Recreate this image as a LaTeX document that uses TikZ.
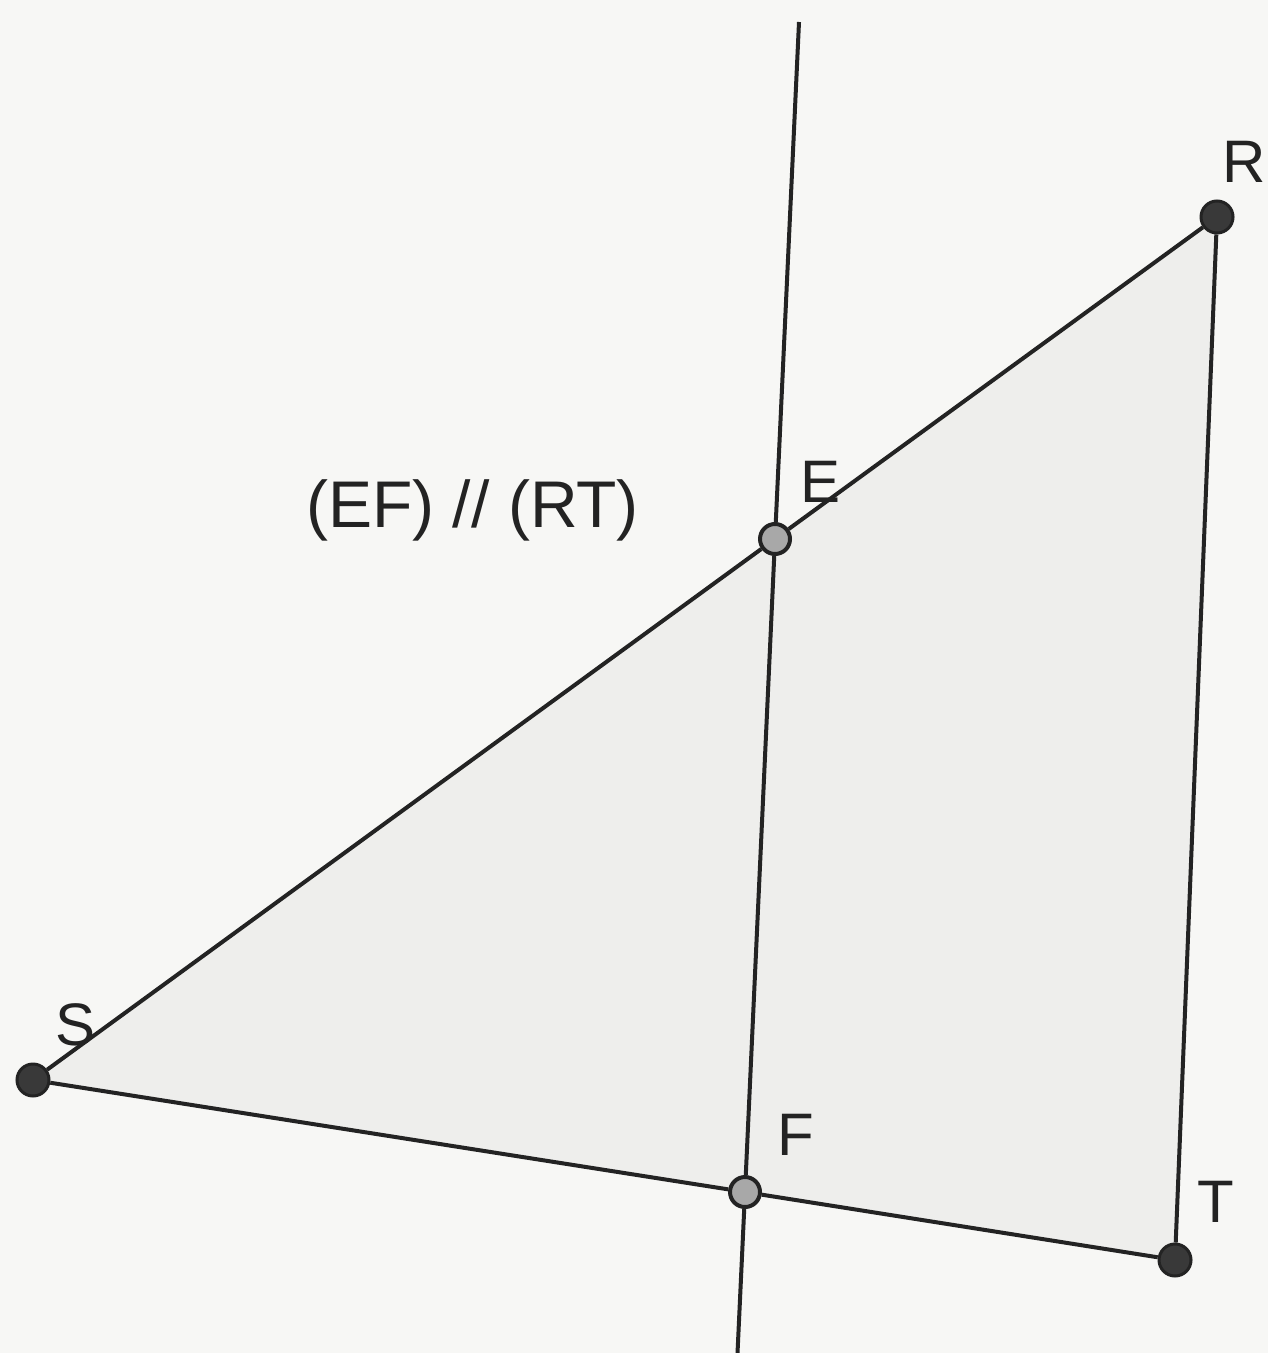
\documentclass[tikz,border=0pt]{standalone}
\usepackage{fontspec}
\setmainfont{Liberation Sans}
\usetikzlibrary{backgrounds}
\definecolor{paper}{RGB}{247,247,245}
\definecolor{trifill}{RGB}{238,238,236}
\definecolor{ink}{RGB}{35,35,35}
\definecolor{dotgray}{RGB}{168,168,168}
\tikzset{
  vertex/.style={circle,draw=ink,fill=ink!90,line width=1.5pt,inner sep=0pt,minimum size=16pt},
  cut/.style={circle,draw=ink,fill=dotgray,line width=2pt,inner sep=0pt,minimum size=15pt},
  lbl/.style={anchor=base west,inner sep=0pt,text=ink,font=\fontsize{30}{30}\selectfont},
  seg/.style={draw=ink,line width=2pt}
}
\begin{document}
\begin{tikzpicture}[x=0.5pt,y=0.5pt,yscale=-1,xscale=1]
\useasboundingbox (0,0) rectangle (1268,1353);
% points
\node [vertex] (S) at (33,1080) {};
\node [vertex] (R) at (1217,217) {};
\node [vertex] (T) at (1175,1260) {};
\coordinate (top) at (799,22);
\coordinate (bot) at (737.5,1353);
% paper and triangle
\begin{pgfonlayer}{background}
\fill [paper] (0,0) rectangle (1268,1353);
\fill [trifill] (S.center) -- (R.center) -- (T.center) -- cycle;
\end{pgfonlayer}
\node [cut] (E) at (775,539) {};
\node [cut] (F) at (745,1192) {};
% sides
\draw [seg] (S) -- (E) -- (R);
\draw [seg] (S) -- (F) -- (T);
\draw [seg] (R) -- (T);
% the line (EF)
\draw [seg] (top) -- (E) -- (F) -- (bot);
% labels
\node [lbl] (labR) at (1222,183) {R};
\node [lbl] (labE) at (800,502) {E};
\node [lbl] (labS) at (55,1045) {S};
\node [lbl] (labF) at (777,1155) {F};
\node [lbl] (labT) at (1197,1222) {T};
\node [lbl,font=\fontsize{33}{33}\selectfont] (para) at (306,527) {(EF) // (RT)};
\end{tikzpicture}
\end{document}
